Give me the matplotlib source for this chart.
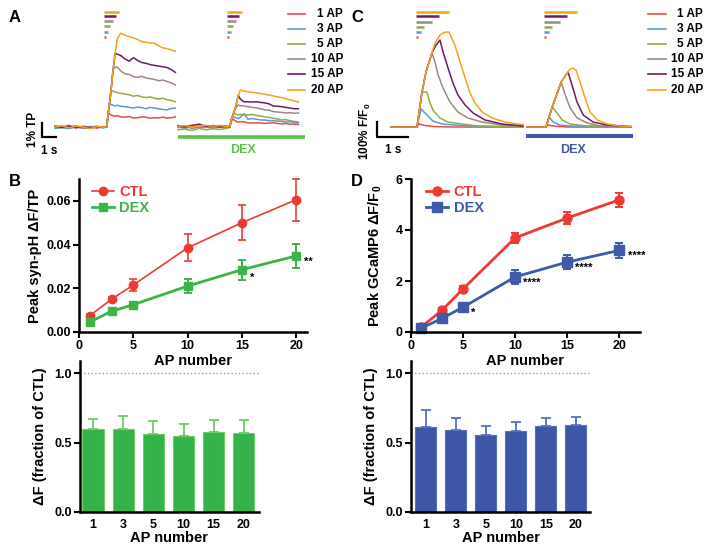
import matplotlib
matplotlib.use("Agg")
import matplotlib.pyplot as plt
import numpy as np

plt.rcParams['font.family'] = ['Liberation Sans', 'DejaVu Sans']
plt.rcParams['font.weight'] = 'bold'
plt.rcParams['axes.labelweight'] = 'bold'
plt.rcParams['mathtext.fontset'] = 'custom'
plt.rcParams['mathtext.rm'] = 'Liberation Sans:bold'
plt.rcParams['mathtext.it'] = 'Liberation Sans:bold'
plt.rcParams['mathtext.bf'] = 'Liberation Sans:bold'

# ---------------- data ----------------
ap = [1, 3, 5, 10, 15, 20]
ap_labels = ['1 AP', '3 AP', '5 AP', '10 AP', '15 AP', '20 AP']
trace_colors = ['#e84a4f', '#5c9ad6', '#8fae44', '#9d8787', '#6f1a64', '#f6a11c']

# A: syn-pH traces (time in s, dF in % TP)
a_t = [0, 0.5, 1.0, 1.5, 2.0, 2.5, 3.0, 3.4, 3.7, 3.8, 3.9, 4.0, 4.15, 4.3, 4.45,
       4.7, 5.0, 5.3, 5.6, 5.9, 6.2, 6.5, 6.8, 7.1, 7.4, 7.7, 8.0, 8.3, 8.6]
a_ctl_1 = [0.05, -0.05, 0.0, 0.08, -0.05, 0.02, -0.08, 0.03, 0.0,
           1.0, 0.93, 0.86, 0.8, 0.78, 0.8, 0.72, 0.7, 0.74, 0.64, 0.66, 0.72, 0.7, 0.62, 0.66, 0.64, 0.7, 0.63, 0.66, 0.72]
a_ctl_3 = [-0.1, -0.05, -0.12, 0.0, -0.08, -0.1, 0.0, -0.06, -0.02,
           1.0, 1.72, 1.6, 1.55, 1.5, 1.55, 1.48, 1.45, 1.4, 1.35, 1.42, 1.38, 1.3, 1.4, 1.35, 1.3, 1.25, 1.22, 1.32, 1.35]
a_ctl_5 = [0.08, 0.02, 0.12, -0.05, 0.05, -0.02, 0.06, -0.04, 0.02,
           1.0, 1.7, 2.64, 2.55, 2.5, 2.45, 2.4, 2.35, 2.3, 2.2, 2.25, 2.15, 2.1, 2.15, 2.05, 2.0, 2.05, 1.95, 1.9, 1.8]
a_ctl_10 = [0.0, 0.06, -0.04, 0.02, -0.1, 0.04, -0.05, 0.0, 0.01,
            1.0, 1.7, 2.6, 4.1, 4.25, 4.28, 4.0, 3.8, 3.75, 3.6, 3.55, 3.62, 3.5, 3.45, 3.4, 3.3, 3.35, 3.25, 3.15, 3.0]
a_ctl_15 = [0.04, -0.02, 0.05, -0.06, 0.03, -0.07, 0.02, -0.03, 0.0,
            1.0, 1.7, 2.6, 4.1, 5.28, 5.2, 5.1, 4.85, 4.7, 4.95, 4.75, 4.6, 4.55, 4.45, 4.4, 4.35, 4.3, 4.25, 4.1, 3.9]
a_ctl_20 = [0.02, 0.08, -0.06, 0.05, 0.0, -0.12, 0.04, -0.02, 0.0,
            1.0, 1.7, 2.6, 4.1, 5.3, 6.3, 6.7, 6.55, 6.45, 6.36, 6.25, 6.1, 6.05, 6.0, 5.98, 5.8, 5.65, 5.6, 5.5, 5.4]
a_dex_1 = [0.1, 0.05, 0.12, 0.0, 0.08, 0.02, 0.1, 0.05, 0.03,
           0.4, 0.57, 0.5, 0.4, 0.35, 0.38, 0.36, 0.3, 0.28, 0.3, 0.28, 0.25, 0.28, 0.3, 0.25, 0.22, 0.25, 0.2, 0.2, 0.18]
a_dex_3 = [0.0, -0.1, 0.05, -0.05, 0.0, -0.08, 0.02, -0.04, 0.0,
           0.5, 0.79, 0.7, 0.65, 0.6, 0.7, 0.95, 0.55, 0.6, 0.55, 0.5, 0.5, 0.45, 0.45, 0.42, 0.4, 0.35, 0.38, 0.3, 0.3]
a_dex_5 = [-0.2, -0.15, -0.25, -0.1, -0.2, -0.12, -0.18, -0.1, -0.05,
           0.5, 0.8, 1.0, 0.9, 0.85, 0.9, 0.86, 0.86, 0.9, 0.82, 0.78, 0.72, 0.68, 0.62, 0.57, 0.5, 0.52, 0.45, 0.4, 0.36]
a_dex_10 = [-0.05, 0.05, -0.1, 0.0, 0.05, -0.05, 0.0, 0.02, 0.0,
            0.5, 0.8, 1.1, 1.4, 1.57, 1.52, 1.5, 1.45, 1.4, 1.36, 1.3, 1.22, 1.2, 1.1, 1.07, 1.04, 1.0, 1.02, 0.98, 1.0]
a_dex_15 = [0.08, 0.0, 0.1, 0.2, 0.05, 0.1, 0.0, 0.05, 0.02,
            0.5, 0.8, 1.1, 1.6, 2.25, 2.0, 1.8, 1.8, 1.78, 1.8, 1.75, 1.72, 1.65, 1.5, 1.48, 1.45, 1.4, 1.35, 1.3, 1.3]
a_dex_20 = [0.05, 0.1, 0.0, 0.08, 0.12, 0.06, 0.1, 0.04, 0.05,
            0.5, 0.8, 1.1, 1.6, 2.2, 2.64, 2.57, 2.5, 2.48, 2.43, 2.4, 2.33, 2.28, 2.22, 2.15, 2.1, 2.02, 1.95, 1.85, 1.78]
a_ctl = [a_ctl_1, a_ctl_3, a_ctl_5, a_ctl_10, a_ctl_15, a_ctl_20]
a_dex = [a_dex_1, a_dex_3, a_dex_5, a_dex_10, a_dex_15, a_dex_20]
a_stim_dur = [0.14, 0.29, 0.43, 0.64, 0.86, 1.07]

# C: GCaMP6 traces (time in s, dF/F0 in units of 100%)
c_ctl_t = [[0, 0.84, 0.9, 1.1, 1.4, 2.0, 4.26],
           [0, 0.84, 0.97, 1.16, 1.35, 1.65, 2.06, 2.9, 4.26],
           [0, 0.84, 1.0, 1.16, 1.23, 1.35, 1.58, 1.84, 2.29, 2.81, 4.26],
           [0, 0.84, 1.0, 1.13, 1.32, 1.42, 1.52, 1.68, 1.9, 2.16, 2.48, 2.94, 3.58, 4.26],
           [0, 0.84, 1.0, 1.13, 1.32, 1.45, 1.58, 1.68, 1.84, 2.0, 2.16, 2.39, 2.65, 3.03, 3.58, 4.26],
           [0, 0.84, 1.0, 1.13, 1.32, 1.42, 1.58, 1.74, 1.87, 2.06, 2.23, 2.39, 2.55, 2.71, 2.94, 3.26, 3.68, 4.26]]
c_ctl_v = [[0, 0, 0.2, 0.1, 0.03, 0, 0],
           [0, 0, 1.2, 0.8, 0.4, 0.2, 0.13, 0.05, 0],
           [0, 0, 2.33, 2.33, 1.8, 1.13, 0.6, 0.33, 0.2, 0.07, 0],
           [0, 0, 2.33, 3.67, 4.93, 4.33, 3.47, 2.6, 1.67, 1.0, 0.6, 0.33, 0.13, 0.05],
           [0, 0, 2.33, 3.67, 4.93, 5.45, 5.8, 5.0, 3.93, 2.93, 2.13, 1.47, 0.93, 0.47, 0.2, 0.07],
           [0, 0, 2.33, 3.67, 4.93, 5.6, 6.13, 6.33, 6.33, 5.47, 4.33, 3.27, 2.27, 1.6, 1.0, 0.6, 0.33, 0.15]]
c_dex_t = [[0, 0.61, 0.68, 0.9, 1.3, 3.35],
           [0, 0.61, 0.71, 0.84, 1.06, 1.39, 3.35],
           [0, 0.61, 0.71, 0.81, 0.84, 0.97, 1.13, 1.39, 1.94, 3.35],
           [0, 0.61, 0.71, 0.81, 0.94, 1.1, 1.23, 1.39, 1.61, 1.94, 2.35, 3.35],
           [0, 0.61, 0.71, 0.81, 0.94, 1.1, 1.32, 1.45, 1.61, 1.81, 2.13, 2.58, 3.23, 3.35],
           [0, 0.61, 0.71, 0.81, 0.94, 1.1, 1.32, 1.39, 1.48, 1.58, 1.71, 1.87, 2.03, 2.26, 2.58, 3.0, 3.35]]
c_dex_v = [[0, 0, 0.13, 0.05, 0, 0],
           [0, 0, 0.67, 0.33, 0.13, 0.07, 0],
           [0, 0, 0.67, 1.33, 1.27, 0.93, 0.47, 0.2, 0.07, 0],
           [0, 0, 0.67, 1.33, 2.07, 3.0, 2.13, 1.27, 0.6, 0.27, 0.07, 0],
           [0, 0, 0.67, 1.33, 2.07, 3.0, 3.67, 2.8, 1.67, 0.8, 0.33, 0.13, 0.05, 0.03],
           [0, 0, 0.67, 1.33, 2.07, 3.0, 3.67, 3.87, 3.93, 3.8, 3.0, 1.93, 1.0, 0.47, 0.2, 0.07, 0.03]]
c_stim_dur = [0.06, 0.16, 0.26, 0.52, 0.74, 1.06]

# B: peak syn-pH dF/TP
b_ctl = [0.0075, 0.015, 0.0215, 0.0385, 0.050, 0.0605]
b_ctl_err = [0.0008, 0.001, 0.0027, 0.0062, 0.008, 0.0096]
b_dex = [0.0046, 0.0095, 0.0125, 0.021, 0.0285, 0.0348]
b_dex_err = [0.0008, 0.001, 0.001, 0.0032, 0.0045, 0.0055]
b_frac = [0.60, 0.60, 0.565, 0.551, 0.575, 0.570]
b_frac_err = [0.073, 0.09, 0.089, 0.084, 0.092, 0.092]

# D: peak GCaMP6 dF/F0
d_ctl = [0.2, 0.86, 1.69, 3.69, 4.47, 5.18]
d_ctl_err = [0.05, 0.08, 0.1, 0.2, 0.25, 0.29]
d_dex = [0.15, 0.54, 0.97, 2.16, 2.74, 3.2]
d_dex_err = [0.05, 0.06, 0.08, 0.26, 0.27, 0.3]
d_frac = [0.612, 0.59, 0.557, 0.583, 0.619, 0.631]
d_frac_err = [0.121, 0.085, 0.065, 0.07, 0.058, 0.056]

red = '#ee3a33'
green = '#3cb44a'
blue = '#3e5aa8'

W, H = 714, 550
fig = plt.figure(figsize=(W / 100, H / 100), dpi=100)


def px_rect(l, t, r, b):
    return [l / W, 1 - b / H, (r - l) / W, (b - t) / H]


# ---------------- panel A ----------------
axA = fig.add_axes(px_rect(35, 0, 355, 160))
axA.set_xlim(-1.43, 21.43)
axA.set_ylim(-2.36, 9.07)
axA.axis('off')
dex_shift_a = 8.79
stim_y_a = [6.43, 6.79, 7.21, 7.57, 7.93, 8.21]
for i in range(6):
    axA.plot(a_t, a_ctl[i], color=trace_colors[i], lw=1.1)
    axA.plot(np.array(a_t) + dex_shift_a, a_dex[i], color=trace_colors[i], lw=1.1)
    for s in [3.5, 3.5 + dex_shift_a]:
        axA.plot([s, s + a_stim_dur[i]], [stim_y_a[i]] * 2, color=trace_colors[i],
                 lw=1.8, solid_capstyle='butt')
axA.plot([-0.93, -0.93, 0.07], [0.29, -0.71, -0.71], color='black', lw=1.6)
axA.text(-1.6, -0.2, '1% TP', rotation=90, ha='center', va='center', fontsize=8.5)
axA.text(-0.39, -1.72, '1 s', ha='center', va='center', fontsize=8.5)
axA.plot([8.79, 17.86], [-0.71, -0.71], color='#5cc14a', lw=2.6, solid_capstyle='butt')
axA.text(13.43, -1.65, 'DEX', color='#5cc14a', ha='center', va='center', fontsize=9)

# ---------------- panel C ----------------
axC = fig.add_axes(px_rect(370, 0, 714, 160))
axC.set_xlim(-0.677, 10.42)
axC.set_ylim(-2.2, 8.47)
axC.axis('off')
dex_shift_c = 4.39
stim_y_c = [6.0, 6.33, 6.67, 7.0, 7.4, 7.67]
for i in range(6):
    axC.plot(c_ctl_t[i], c_ctl_v[i], color=trace_colors[i], lw=1.1)
    axC.plot(np.array(c_dex_t[i]) + dex_shift_c, c_dex_v[i], color=trace_colors[i], lw=1.1)
    for s in [0.81, 0.55 + dex_shift_c]:
        axC.plot([s, s + c_stim_dur[i]], [stim_y_c[i]] * 2, color=trace_colors[i],
                 lw=1.8, solid_capstyle='butt')
axC.plot([-0.45, -0.45, 0.55], [0.33, -0.67, -0.67], color='black', lw=1.6)
axC.text(-0.83, -0.3, '100% F/F$_0$', rotation=90, ha='center', va='center', fontsize=8.5)
axC.text(0.06, -1.55, '1 s', ha='center', va='center', fontsize=8.5)
axC.plot([4.35, 7.81], [-0.6, -0.6], color=blue, lw=2.9, solid_capstyle='butt')
axC.text(5.87, -1.5, 'DEX', color=blue, ha='center', va='center', fontsize=9)


def style_axes(ax):
    ax.patch.set_alpha(0)
    for side in ['top', 'right']:
        ax.spines[side].set_visible(False)
    for side in ['left', 'bottom']:
        ax.spines[side].set_linewidth(1.8)
    ax.tick_params(direction='out', length=4, width=1.5, labelsize=9, pad=2)


# ---------------- panel B ----------------
axB = fig.add_axes(px_rect(79, 179, 307, 332))
eb1 = axB.errorbar(ap, b_ctl, yerr=b_ctl_err, fmt='-o', color=red, ms=6, lw=1.2,
                   capsize=3, elinewidth=1.2, capthick=1.2, clip_on=False)
eb2 = axB.errorbar(ap, b_dex, yerr=b_dex_err, fmt='-s', color=green, ms=5.5, lw=2,
                   capsize=3, elinewidth=1.4, capthick=1.4, clip_on=False)
axB.set_xlim(0, 21)
axB.set_ylim(0, 0.07)
axB.set_xticks([0, 5, 10, 15, 20])
axB.set_yticks([0, 0.02, 0.04, 0.06])
axB.set_yticklabels(['0.00', '0.02', '0.04', '0.06'])
style_axes(axB)
axB.set_xlabel('AP number', fontsize=10.5, labelpad=1)
axB.set_ylabel('Peak syn-pH ΔF/TP', fontsize=10.5, labelpad=3)
axB.legend(handles=[eb1[0], eb2[0]], labels=['CTL', 'DEX'], loc='upper left',
           bbox_to_anchor=(0.03, 1.0), frameon=False, fontsize=10.5, handlelength=1.5,
           handletextpad=0.4, labelspacing=0.15, borderaxespad=0, labelcolor='linecolor')
axB.annotate('*', (15, b_dex[4]), xytext=(6, -6), textcoords='offset points',
             fontsize=8, ha='left', va='center')
axB.annotate('**', (20, b_dex[5]), xytext=(6, -4), textcoords='offset points',
             fontsize=8, ha='left', va='center')

# ---------------- panel D ----------------
axD = fig.add_axes(px_rect(411, 179, 640, 332))
eb3 = axD.errorbar(ap, d_ctl, yerr=d_ctl_err, fmt='-o', color=red, ms=6.5, lw=2,
                   capsize=3, elinewidth=1.4, capthick=1.4, clip_on=False)
eb4 = axD.errorbar(ap, d_dex, yerr=d_dex_err, fmt='-s', color=blue, ms=6.5, lw=2,
                   capsize=3, elinewidth=1.4, capthick=1.4, clip_on=False)
axD.set_xlim(0, 22)
axD.set_ylim(0, 6)
axD.set_xticks([0, 5, 10, 15, 20])
axD.set_yticks([0, 2, 4, 6])
style_axes(axD)
axD.set_xlabel('AP number', fontsize=10.5, labelpad=1)
axD.set_ylabel('Peak GCaMP6 ΔF/F$_0$', fontsize=10.5, labelpad=8)
axD.legend(handles=[eb3[0], eb4[0]], labels=['CTL', 'DEX'], loc='upper left',
           bbox_to_anchor=(0.04, 1.0), frameon=False, fontsize=10.5, handlelength=1.5,
           handletextpad=0.4, labelspacing=0.15, borderaxespad=0, labelcolor='linecolor')
for k, mark in [(2, '*'), (3, '****'), (4, '****'), (5, '****')]:
    axD.annotate(mark, (ap[k], d_dex[k]), xytext=(6, -4), textcoords='offset points',
                 fontsize=8, ha='left', va='center')


# ---------------- bar panels ----------------
def bar_panel(rect, vals, errs, fill, ecol, xl):
    ax = fig.add_axes(px_rect(*rect))
    x = np.arange(len(vals))
    ax.bar(x, vals, width=0.7, color=fill, edgecolor=ecol, lw=0.8, zorder=2)
    ax.errorbar(x, vals, yerr=[np.zeros(len(vals)), errs], fmt='none', ecolor=ecol,
                capsize=3.5, elinewidth=1.3, capthick=1.3, zorder=3)
    ax.axhline(1.0, color='#9a9a9a', ls=':', lw=1, zorder=1)
    ax.set_xlim(*xl)
    ax.set_ylim(0, 1.09)
    ax.set_xticks(x)
    ax.set_xticklabels([str(a) for a in ap])
    ax.set_yticks([0, 0.5, 1.0])
    ax.set_yticklabels(['0.0', '0.5', '1.0'])
    style_axes(ax)
    ax.tick_params(axis='x', length=0, pad=5)
    ax.set_xlabel('AP number', fontsize=10.5, labelpad=0)
    ax.set_ylabel('ΔF (fraction of CTL)', fontsize=10.5, labelpad=5)
    return ax


bar_panel((80, 361, 259, 512), b_frac, b_frac_err, '#34b34a', '#6fca66', (-0.43, 5.5))
bar_panel((411, 361, 590, 512), d_frac, d_frac_err, '#3d56a6', '#5570bd', (-0.5, 5.47))

# ---------------- overlay: letters and trace legends ----------------
ov = fig.add_axes([0, 0, 1, 1])
ov.set_xlim(0, W)
ov.set_ylim(H, 0)
ov.axis('off')
ov.patch.set_alpha(0)
for letter, x, y in [('A', 15, 17), ('C', 357, 17), ('B', 15, 182), ('D', 357, 182)]:
    ov.text(x, y, letter, fontsize=12, ha='center', va='center')
leg_y = [14, 29, 44, 59, 74, 90]
for x0, x1, xt in [(288, 305, 343), (648, 666, 703)]:
    for i in range(6):
        ov.plot([x0, x1], [leg_y[i]] * 2, color=trace_colors[i], lw=1.2)
        ov.text(xt, leg_y[i], ap_labels[i], ha='right', va='center', fontsize=8.5)

fig.savefig('out.png', dpi=100)
